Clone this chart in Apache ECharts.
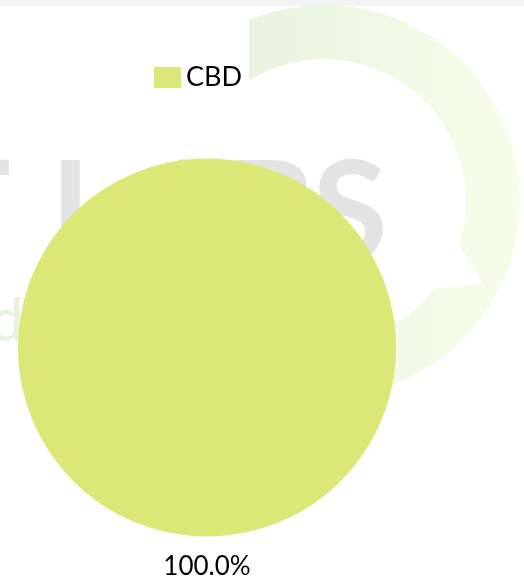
<!DOCTYPE html>
<html>
<head>
<meta charset="utf-8">
<script src="https://cdn.jsdelivr.net/npm/echarts@6/dist/echarts.min.js"></script>
<style>
html,body{margin:0;padding:0;background:#fff;}
#strip{position:absolute;left:0;top:0;width:524px;height:6px;background:#f3f3f3;z-index:2;}
#chart{position:absolute;left:0;top:0;width:524px;height:581px;}
</style>
</head>
<body>
<div id="chart"></div>
<div id="strip"></div>
<script>
const categories = ['CBD'];
const seriesValues = [100];
const sliceColors = ['#dde777'];

const chart = echarts.init(document.getElementById('chart'));
const ringGrad = new echarts.graphic.LinearGradient(0, 0, 1, 0, [
  {offset: 0, color: '#e2f0dc'},
  {offset: 1, color: '#f6fee9'}
]);
const wm = {fontFamily: 'Lato', fontSize: 138, fontWeight: 'bold', fill: '#e3e3e3'};
const option = {
  backgroundColor: '#ffffff',
  animation: false,
  color: sliceColors,
  textStyle: {fontFamily: 'Lato'},
  graphic: [
    {type: 'sector', z: -10, silent: true,
     shape: {cx: 324, cy: 201, r: 196, r0: 142, startAngle: -Math.PI * 0.68, endAngle: Math.PI * 0.92},
     style: {fill: ringGrad}},
    {type: 'rect', z: -9.5, silent: true,
     shape: {x: 190, y: 0, width: 59, height: 110},
     style: {fill: '#ffffff'}},
    {type: 'polygon', z: -9.5, silent: true,
     shape: {points: [[459, 244], [483, 283], [436, 289], [430, 250]]},
     style: {fill: '#ffffff'}},
    {type: 'text', z: -9, silent: true, left: -72, top: 146, style: Object.assign({text: 'T'}, wm)},
    {type: 'text', z: -9, silent: true, left: 50, top: 146, style: Object.assign({text: 'L'}, wm)},
    {type: 'text', z: -9, silent: true, left: 140, top: 146, style: Object.assign({text: 'A'}, wm)},
    {type: 'text', z: -9, silent: true, left: 224, top: 146, style: Object.assign({text: 'B'}, wm)},
    {type: 'text', z: -9, silent: true, left: 312, top: 146, style: Object.assign({text: 'S'}, wm)},
    {type: 'text', z: -9, silent: true, left: -10, top: 292,
     style: {text: 'd', fontFamily: 'Lato', fontSize: 60, fill: '#e6f2e0'}}
  ],
  legend: {
    data: categories,
    left: 149,
    top: 59,
    itemWidth: 27,
    itemHeight: 21,
    itemGap: 10,
    icon: 'rect',
    textStyle: {fontFamily: 'Lato', fontSize: 27, color: '#000'}
  },
  series: [{
    type: 'pie',
    center: [207, 347.5],
    radius: 189,
    data: categories.map((c, i) => ({name: c, value: seriesValues[i]})),
    label: {
      show: true,
      position: 'outside',
      distanceToLabelLine: 0,
      fontFamily: 'Lato',
      fontSize: 26,
      color: '#000',
      formatter: p => p.percent.toFixed(1) + '%'
    },
    labelLine: {show: false, length: 30, length2: 0},
    labelLayout: () => ({align: 'center'}),
    emphasis: {disabled: true}
  }]
};
chart.setOption(option);
</script>
</body>
</html>
